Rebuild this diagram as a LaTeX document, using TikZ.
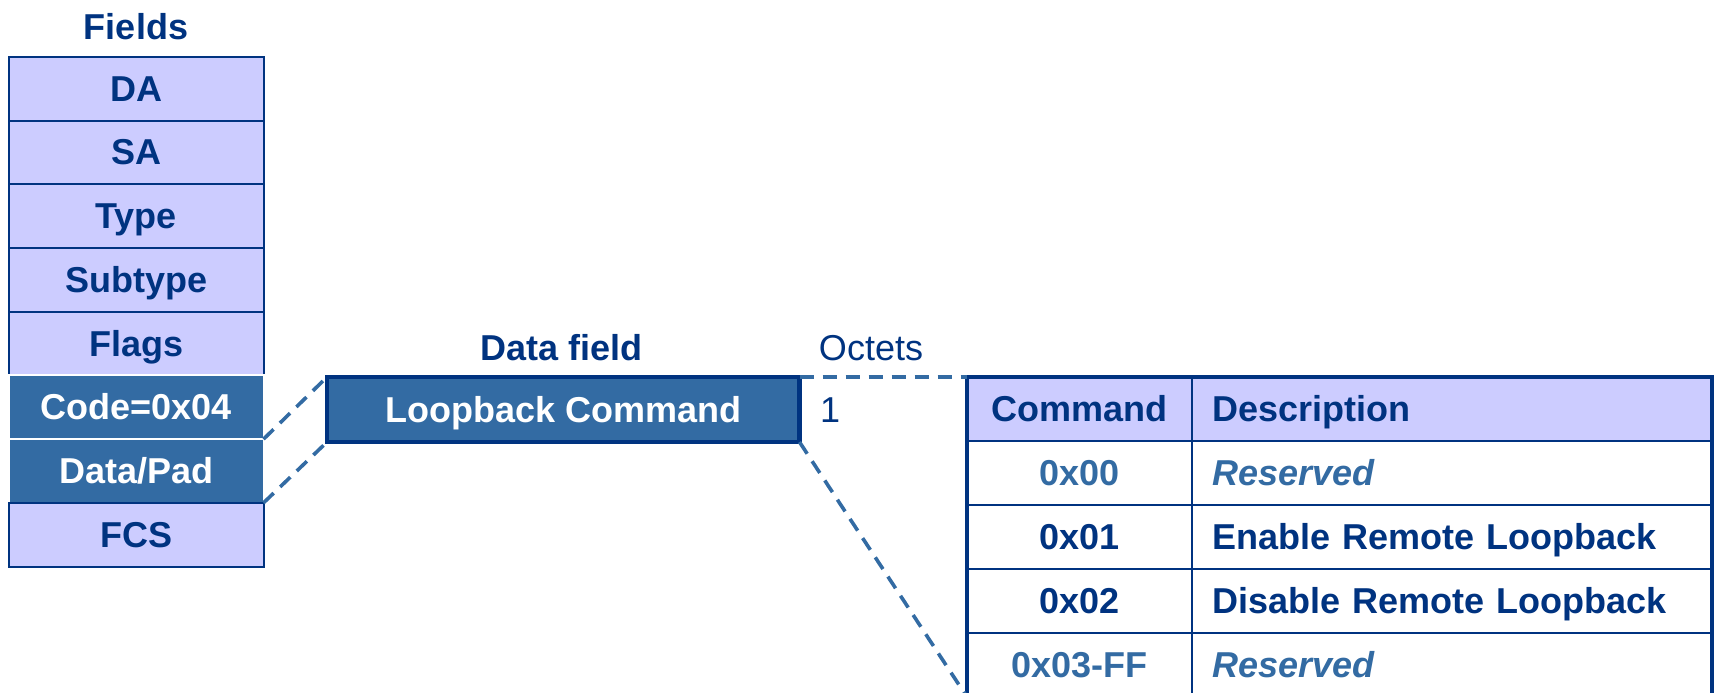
\documentclass[tikz,border=0pt]{standalone}
\usepackage{fontspec}
\setmainfont{Liberation Sans}
\definecolor{navy}{RGB}{0,51,128}
\definecolor{midblue}{RGB}{51,107,163}
\definecolor{lav}{RGB}{204,204,255}
\begin{document}
\begin{tikzpicture}[x=0.5pt,y=-0.5pt,
  every node/.style={inner sep=0pt, outer sep=0pt, text height=12.9pt, text depth=0.4pt,
    font=\bfseries\fontsize{18}{21}\selectfont},
  field/.style={draw=navy, line width=1pt, fill=lav, text=navy,
    minimum width=127.4pt, minimum height=31.85pt, anchor=north west},
  hot/.style={field, fill=midblue, draw=white, text=white},
  title/.style={text=navy},
  cmdbox/.style={draw=navy, line width=2.2pt, fill=midblue, text=white,
    minimum width=236.25pt, minimum height=32.5pt, anchor=north west},
  codecell/.style={draw=navy, line width=1pt, minimum width=112.5pt,
    minimum height=32pt, anchor=north west},
  desccell/.style={draw=navy, line width=1pt, text width=240pt, inner xsep=10pt,
    align=left, minimum height=32pt, anchor=north west},
  dline/.style={draw=midblue, line width=1.8pt, dash pattern=on 7pt off 4.5pt}]
\useasboundingbox (0,0) rectangle (1715,692);
\clip (0,0) rectangle (1715,692);

% frame field stack
\node[title] (ftitle) at (136,27) {Fields};
\node[field] (da)  at (8.75,56.9)  {DA};
\node[field] (sa)  at (8.75,120.6) {SA};
\node[field] (ty)  at (8.75,184.3) {Type};
\node[field] (st)  at (8.75,248.0) {Subtype};
\node[field] (fl)  at (8.75,311.7) {Flags};
\node[hot]   (cd)  at (8.75,375.4) {Code=0x04};
\node[hot]   (dp)  at (8.75,439.1) {Data/Pad};
\node[field] (fcs) at (8.75,502.8) {FCS};

% data field
\node[title] (dtitle) at (562,348) {Data field};
\node[title, font=\fontsize{18}{21}\selectfont] (otitle) at (871,348) {Octets};
\node[cmdbox] (cmd) at (327,377) {Loopback Command};
\node[title, font=\fontsize{18}{21}\selectfont, anchor=west] (oct) at (820,410) {1};

% command table
\node[codecell, fill=lav, text=navy] (h1) at (967,377) {Command};
\node[desccell, fill=lav, text=navy] (h2) at (1192,377) {Description};
\node[codecell, fill=white, text=midblue] (c0) at (967,441) {0x00};
\node[desccell, fill=white, text=midblue, font=\bfseries\itshape\fontsize{18}{21}\selectfont] (d0) at (1192,441) {Reserved};
\node[codecell, fill=white, text=navy] (c1) at (967,505) {0x01};
\node[desccell, fill=white, text=navy] (d1) at (1192,505) {Enable Remote Loopback};
\node[codecell, fill=white, text=navy] (c2) at (967,569) {0x02};
\node[desccell, fill=white, text=navy] (d2) at (1192,569) {Disable Remote Loopback};
\node[codecell, fill=white, text=midblue] (c3) at (967,633) {0x03-FF};
\node[desccell, fill=white, text=midblue, font=\bfseries\itshape\fontsize{18}{21}\selectfont] (d3) at (1192,633) {Reserved};
\draw[navy, line width=2.2pt] (c3.south west) -- (h1.north west) -- (h2.north east) -- (d3.south east);

% expansion lines
\draw[dline] (dp.north east) -- (cmd.north west);
\draw[dline] (dp.south east) -- (cmd.south west);
\draw[dline] (cmd.north east) -- (h1.north west);
\draw[dline] (cmd.south east) -- (c3.south west);
\end{tikzpicture}
\end{document}
